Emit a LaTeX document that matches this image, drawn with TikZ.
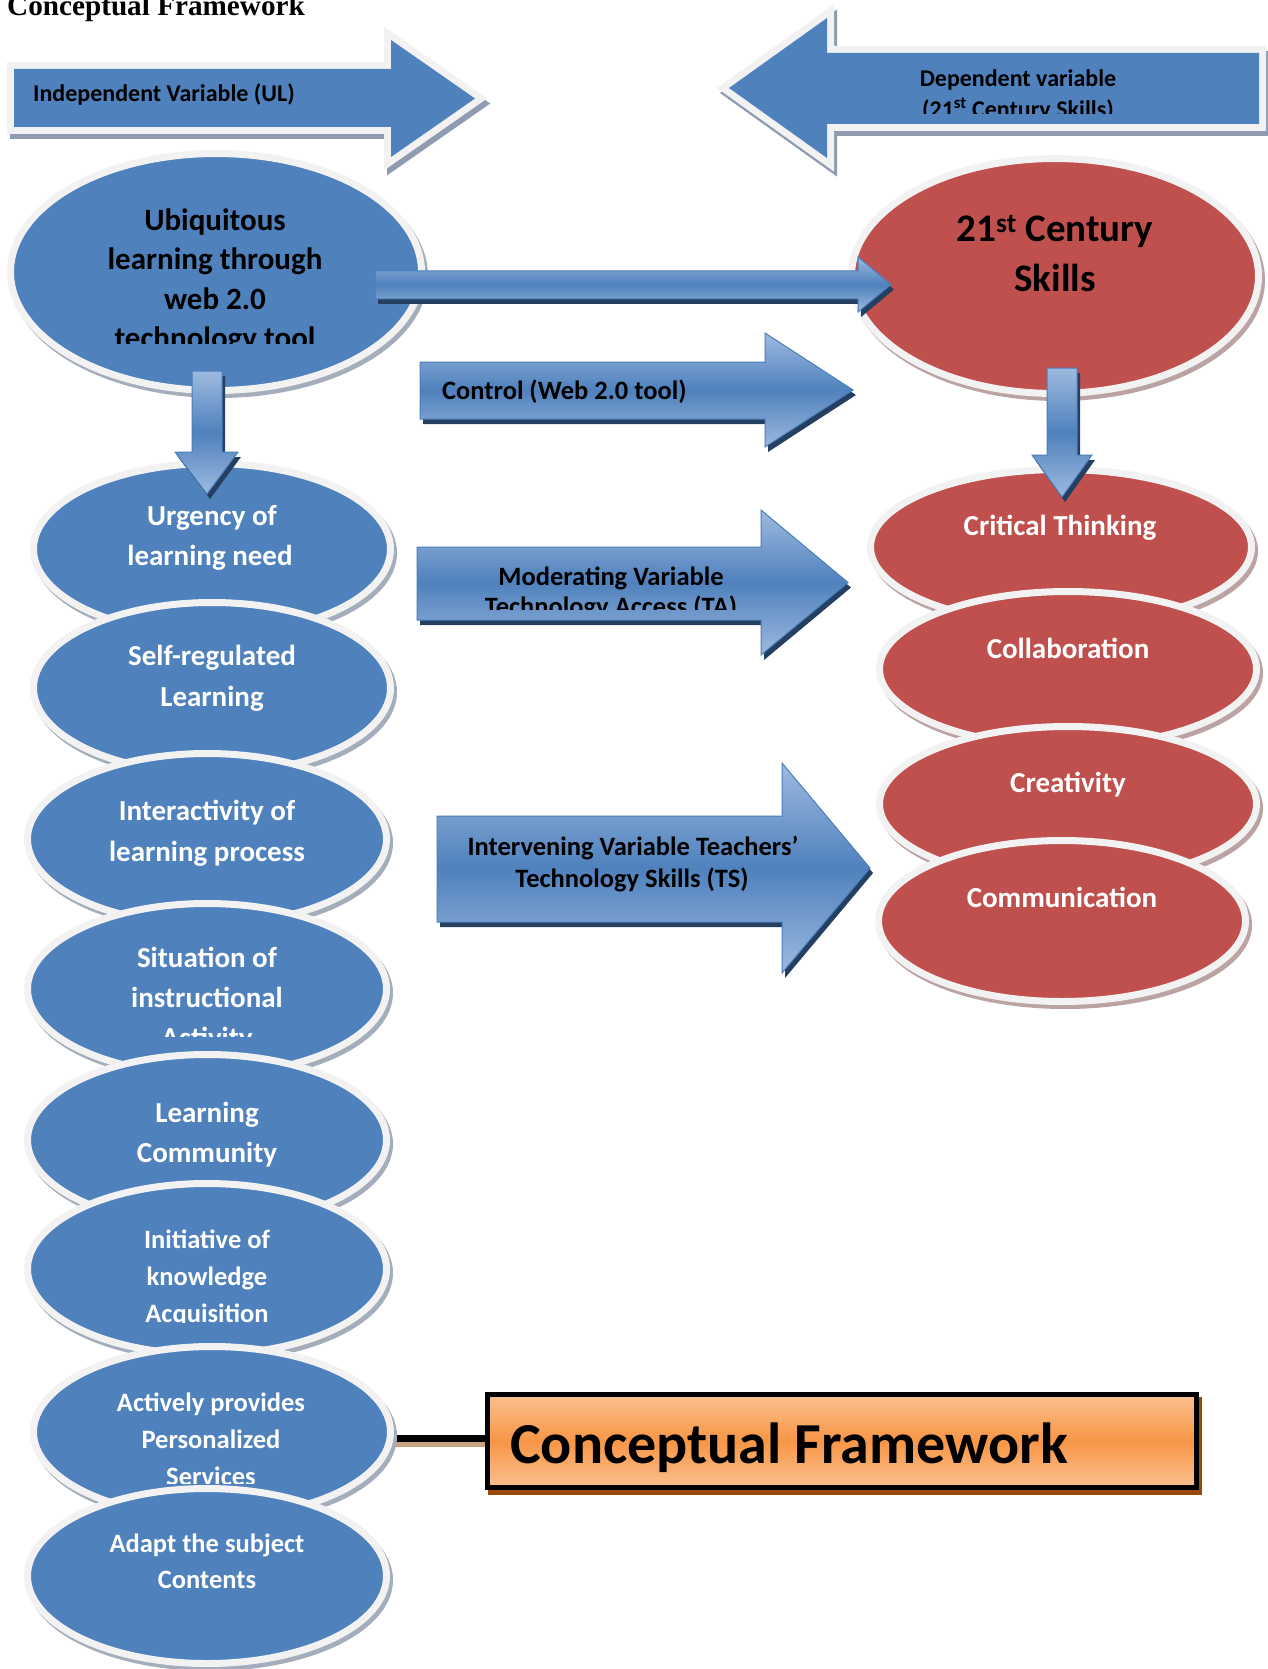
\documentclass[tikz,border=0pt]{standalone}
\usepackage{fontspec}
\setmainfont{Carlito}
\newfontfamily\timesf{Liberation Serif}
\usetikzlibrary{shapes.geometric,calc}
\pgfdeclarelayer{bg}
\pgfsetlayers{bg,main}

\definecolor{blueE}{HTML}{4F81BD}
\definecolor{redE}{HTML}{C0504D}
\definecolor{rimE}{HTML}{F2F2F2}
\definecolor{shB}{HTML}{A3ADBB}
\definecolor{shR}{HTML}{BBA3A3}
\definecolor{arrLight}{HTML}{9DBADF}
\definecolor{arrLine}{HTML}{4A7EBB}
\definecolor{arrShadow}{HTML}{243F60}
\definecolor{topShadow}{HTML}{8E9BB0}
\definecolor{boxLight}{HTML}{FAC090}
\definecolor{boxMid}{HTML}{F79646}
\definecolor{boxShadow}{HTML}{984807}
\definecolor{tanLine}{HTML}{C9A27F}

\tikzset{
  ellbase/.style={ellipse, inner sep=0pt, line width=7pt, draw=rimE},
  blueell/.style={ellbase, fill=blueE,
    preaction={fill=shB, draw=shB, line width=7pt, transform canvas={shift={(3pt,-4pt)}}}},
  redell/.style={ellbase, fill=redE,
    preaction={fill=shR, draw=shR, line width=7pt, transform canvas={shift={(3pt,-4pt)}}}},
  esize/.style n args={2}{minimum width=#1pt, minimum height=#2pt},
  tb/.style={inner sep=0pt, anchor=base, text=black},
  tw/.style={inner sep=0pt, anchor=base, text=white},
  f24/.style={font=\fontsize{24}{29}\selectfont\bfseries},
  f26/.style={font=\fontsize{26.5}{32}\selectfont\bfseries},
  f29/.style={font=\fontsize{29}{35}\selectfont\bfseries},
  f31/.style={font=\fontsize{31}{37}\selectfont\bfseries},
  f39/.style={font=\fontsize{39}{46}\selectfont\bfseries},
  f58/.style={font=\fontsize{58}{68}\selectfont\bfseries},
  titlefont/.style={font=\timesf\fontsize{29.2}{34}\selectfont\bfseries},
  cfbox/.style={rectangle, inner sep=0pt, draw=black, line width=5pt,
    top color=boxLight, bottom color=boxLight, middle color=boxMid,
    preaction={fill=boxShadow, draw=boxShadow, line width=5pt, transform canvas={shift={(3pt,-5pt)}}},
    minimum width=709pt, minimum height=93pt},
  connline/.style={black, line width=7pt},
  connshadow/.style={tanLine, line width=5pt}
}

\newcommand{\topArrow}[1]{%
  \begin{scope}[shift={(3,5)}]
    \filldraw[topShadow, line width=14pt, line join=miter] #1;
  \end{scope}
  \draw[rimE, line width=14pt, line join=miter] #1;
  \fill[blueE] #1;
}
\newcommand{\midArrow}[1]{%
  \begin{scope}[shift={(3,5)}]
    \fill[arrShadow] #1;
  \end{scope}
  \shadedraw[top color=arrLight, bottom color=arrLight, middle color=blueE, draw=arrLine, line width=1pt] #1;
}

\begin{document}
\begin{tikzpicture}[x=1pt,y=-1pt]
\useasboundingbox (0,0) rectangle (1267,1669);

% title
\node[titlefont, inner sep=0pt, anchor=base west] (title) at (7,16) {Conceptual Framework};

% top arrows
\topArrow{(14,69) -- (391,69) -- (391,40) -- (475,98.5) -- (391,157) -- (391,127) -- (14,127) -- cycle}
\topArrow{(1259,53) -- (827,53) -- (827,18) -- (729,88) -- (827,158) -- (827,124) -- (1259,124) -- cycle}
\node[tb, f24, anchor=base west] (indep) at (33,102) {Independent Variable (UL)};
\node[tb, f24] (dep1) at (1018,87) {Dependent variable};
\begin{scope}
  \clip (830,95) rectangle (1250,114);
  \node[tb, f24] (dep2) at (1018,118) {(21\textsuperscript{st} Century Skills)};
\end{scope}

% main ellipses
\node[blueell, esize={411}{237}] (ubi) at (216,272) {};
\node[tb, f31] (ubi1) at (215,231) {Ubiquitous};
\node[tb, f31] (ubi2) at (215,270) {learning through};
\node[tb, f31] (ubi3) at (215,309) {web 2.0};
\begin{scope}
  \clip (0,315) rectangle (430,343);
  \node[tb, f31] (ubi4) at (215,348) {technology tool};
\end{scope}

\node[redell, esize={407}{235}] (c21) at (1055,276) {};
\node[tb, f39] (c21a) at (1055,242) {21\textsuperscript{st} Century};
\node[tb, f39] (c21b) at (1055,292) {Skills};

% left column
\node[blueell, esize={357}{171}] (urg) at (212,549) {};
\node[tw, f29] (urg1) at (212,525) {Urgency of};
\node[tw, f29] (urg2) at (210,565) {learning need};

\node[blueell, esize={357}{171}] (self) at (212,688) {};
\node[tw, f29] (self1) at (212,665) {Self-regulated};
\node[tw, f29] (self2) at (212,706) {Learning};

\node[blueell, esize={359}{171}] (inter) at (207,839) {};
\node[tw, f29] (inter1) at (207,820) {Interactivity of};
\node[tw, f29] (inter2) at (207,861) {learning process};

\node[blueell, esize={359}{171}] (sit) at (207,989) {};
\node[tw, f29] (sit1) at (207,967) {Situation of};
\node[tw, f29] (sit2) at (207,1007) {instructional};
\begin{scope}
  \clip (0,1015) rectangle (420,1036);
  \node[tw, f29] (sit3) at (207,1047) {Activity};
\end{scope}

\node[blueell, esize={359}{171}] (lc) at (207,1140) {};
\node[tw, f29] (lc1) at (207,1122) {Learning};
\node[tw, f29] (lc2) at (207,1162) {Community};

\node[blueell, esize={359}{171}] (init) at (207,1269) {};
\node[tw, f26] (init1) at (207,1248) {Initiative of};
\node[tw, f26] (init2) at (207,1285) {knowledge};
\begin{scope}
  \clip (0,1292) rectangle (420,1322);
  \node[tw, f26] (init3) at (207,1322) {Acquisition};
\end{scope}

\node[blueell, esize={357}{171}] (act) at (212,1432) {};
\node[tw, f26] (act1) at (211,1411) {Actively provides};
\node[tw, f26] (act2) at (211,1448) {Personalized};
\begin{scope}
  \clip (0,1455) rectangle (420,1483);
  \node[tw, f26] (act3) at (211,1485) {Services};
\end{scope}

\node[blueell, esize={359}{175}] (adapt) at (207,1576) {};
\node[tw, f26] (adapt1) at (207,1552) {Adapt the subject};
\node[tw, f26] (adapt2) at (207,1588) {Contents};

% right column
\node[redell, esize={381}{155}] (crit) at (1061,547) {};
\node[tw, f29] (critT) at (1060,535) {Critical Thinking};
\node[redell, esize={377}{155}] (collab) at (1068,669) {};
\node[tw, f29] (collabT) at (1068,658) {Collaboration};
\node[redell, esize={377}{155}] (creat) at (1068,804) {};
\node[tw, f29] (creatT) at (1068,792) {Creativity};
\node[redell, esize={367}{161}] (comm) at (1062,921) {};
\node[tw, f29] (commT) at (1062,907) {Communication};

% block arrows
\midArrow{(375,271) -- (858,271) -- (858,257) -- (891,284.5) -- (858,312) -- (858,299) -- (375,299) -- cycle}
\midArrow{(192,371) -- (222,371) -- (222,452) -- (238,452) -- (207,494) -- (175,452) -- (192,452) -- cycle}
\midArrow{(1047,368) -- (1077,368) -- (1077,455) -- (1092,455) -- (1062,497) -- (1032,455) -- (1047,455) -- cycle}
\midArrow{(420,362) -- (765,362) -- (765,333) -- (853,390) -- (765,447) -- (765,419) -- (420,419) -- cycle}
\midArrow{(417,547) -- (761,547) -- (761,510) -- (848,582.5) -- (761,655) -- (761,620) -- (417,620) -- cycle}
\midArrow{(437,816) -- (782,816) -- (782,763) -- (870,868) -- (782,973) -- (782,922) -- (437,922) -- cycle}

\node[tb, f26, anchor=base west] (ctrl) at (442,399) {Control (Web 2.0 tool)};
\node[tb, f26] (mod1) at (611,585) {Moderating Variable};
\begin{scope}
  \clip (420,592) rectangle (760,609);
  \node[tb, f26] (mod2) at (611,615) {Technology Access (TA)};
\end{scope}
\node[tb, f26] (int1) at (633,855) {Intervening Variable Teachers’};
\node[tb, f26] (int2) at (632,887) {Technology Skills (TS)};

% conceptual framework box
\node[cfbox] (cf) at (842,1441) {};
\node[tb, f58, anchor=base west] (cfT) at (510,1463) {Conceptual Framework};

% connector
\begin{pgfonlayer}{bg}
  \draw[connshadow] ($(act.center)+(0,12.5)$) -- ($(act.center -| cf.west)+(0,12.5)$);
  \draw[connline] ($(act.center)+(0,6.5)$) -- ($(act.center -| cf.west)+(0,6.5)$);
\end{pgfonlayer}

\end{tikzpicture}
\end{document}
